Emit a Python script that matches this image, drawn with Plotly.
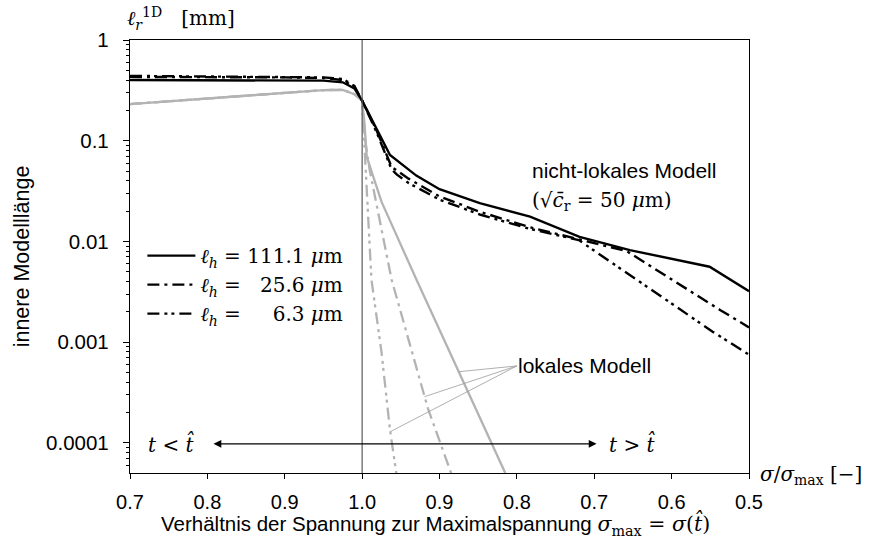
import numpy as np
import plotly.graph_objects as go

# stress ratio sigma/sigma_max before the peak (t < t_hat) and after it (t > t_hat)
r_pre = [0.70, 0.80, 0.90, 0.95, 0.975, 0.99, 1.0]

# non-local model, black lines
nl_pre_111 = [0.40, 0.40, 0.40, 0.395, 0.38, 0.33, 0.25]
nl_pre_25 = [0.43, 0.43, 0.425, 0.42, 0.40, 0.34, 0.25]
nl_pre_6 = [0.44, 0.435, 0.43, 0.425, 0.41, 0.35, 0.25]

nl_r_post_111 = [1.0, 0.981, 0.964, 0.93, 0.90, 0.848, 0.783, 0.719, 0.654, 0.551, 0.50]
nl_post_111 = [0.25, 0.128, 0.072, 0.045, 0.033, 0.024, 0.0176, 0.0111, 0.0082, 0.0056, 0.0032]

nl_r_post_25 = [1.0, 0.981, 0.962, 0.94, 0.90, 0.848, 0.783, 0.72, 0.658, 0.538, 0.50]
nl_post_25 = [0.25, 0.125, 0.055, 0.042, 0.028, 0.0197, 0.0138, 0.0105, 0.0080, 0.0021, 0.0014]

nl_r_post_6 = [1.0, 0.981, 0.962, 0.955, 0.94, 0.90, 0.848, 0.783, 0.72, 0.547, 0.50]
nl_post_6 = [0.25, 0.12, 0.052, 0.046, 0.038, 0.026, 0.0185, 0.0133, 0.0103, 0.00127, 0.00075]

# local model, grey lines
lo_pre = [0.231, 0.263, 0.298, 0.318, 0.32, 0.29, 0.25]

lo_r_post_111 = [1.0, 0.997, 0.994, 0.975, 0.93, 0.815]
lo_post_111 = [0.25, 0.15, 0.069, 0.0248, 0.0042, 0.00005]

lo_r_post_25 = [1.0, 0.996, 0.99, 0.977, 0.962, 0.915, 0.885]
lo_post_25 = [0.25, 0.10, 0.05, 0.016, 0.0042, 0.00022, 0.00005]

lo_r_post_6 = [1.0, 0.998, 0.995, 0.99, 0.988, 0.975, 0.964, 0.954]
lo_post_6 = [0.25, 0.12, 0.04, 0.0089, 0.0042, 0.0008, 0.000135, 0.00004]

x_ticks = [0.7, 0.8, 0.9, 1.0, 0.9, 0.8, 0.7, 0.6, 0.5]
y_ticks = [0.0001, 0.001, 0.01, 0.1, 1]
y_ticktext = ["0.0001", "0.001", "0.01", "0.1", "1"]

legend_names = ["<i>ℓ</i><sub><i>h</i></sub> = 111.1 <i>μ</i>m",
                "<i>ℓ</i><sub><i>h</i></sub> = \u200725.6 <i>μ</i>m",
                "<i>ℓ</i><sub><i>h</i></sub> = \u2007\u20076.3 <i>μ</i>m"]

SANS = "Liberation Sans"
SERIF = "DejaVu Serif"
GREY = "#b3b3b3"
DASHDOT = "12px,5px,3px,5px"
DASHDOTDOT = "12px,5px,3px,4px,3px,5px"


def unfold(r_before, r_after):
    # axis coordinate: before the peak u = r, after the peak u = 2 - r
    return list(r_before) + [2 - r for r in r_after]


fig = go.Figure()

black = [(nl_pre_111, nl_r_post_111, nl_post_111, "solid"),
         (nl_pre_25, nl_r_post_25, nl_post_25, DASHDOT),
         (nl_pre_6, nl_r_post_6, nl_post_6, DASHDOTDOT)]
grey = [(lo_pre, lo_r_post_111, lo_post_111, "solid"),
        (lo_pre, lo_r_post_25, lo_post_25, DASHDOT),
        (lo_pre, lo_r_post_6, lo_post_6, DASHDOTDOT)]

for pre, rp, post, dash in grey:
    fig.add_trace(go.Scatter(x=unfold(r_pre, rp), y=list(pre) + list(post), mode="lines",
                             line=dict(color=GREY, width=2.3, dash=dash), showlegend=False))

for (pre, rp, post, dash), name in zip(black, legend_names):
    fig.add_trace(go.Scatter(x=unfold(r_pre, rp), y=list(pre) + list(post), mode="lines",
                             line=dict(color="black", width=2.4, dash=dash), name=name))

# leader lines from "lokales Modell" to the grey curves
label_u, label_y = 1.2, 0.00058
for (pre, rp, post, dash), target in zip(grey, [-3.294, -3.542, -3.89]):
    u = np.array([2 - r for r in rp])
    ly = np.log10(post)
    u_hit = np.interp(target, ly[::-1], u[::-1])
    fig.add_trace(go.Scatter(x=[label_u, u_hit], y=[label_y, 10 ** target], mode="lines",
                             line=dict(color="#9a9a9a", width=0.8), showlegend=False,
                             hoverinfo="skip"))

fig.add_vline(x=1.0, line=dict(color="#5a5a5a", width=1.2))

fig.add_annotation(x=label_u, y=np.log10(label_y), text="lokales Modell", showarrow=False,
                   xanchor="left", yanchor="middle", xshift=-1,
                   font=dict(family=SANS, size=21, color="black"))

fig.add_annotation(x=1.217, y=-1.291, text="nicht-lokales Modell", showarrow=False,
                   xanchor="left", yanchor="middle",
                   font=dict(family=SANS, size=21, color="black"))
fig.add_annotation(x=1.217, y=-1.60, text="(√<i>c\u0304</i><sub>r</sub> = 50 <i>μ</i>m)",
                   showarrow=False, xanchor="left", yanchor="middle",
                   font=dict(family=SERIF, size=20, color="black"))

# t < t_hat  <-->  t > t_hat
fig.add_annotation(x=1.303, y=-4.01, ax=0.806, ay=-4.01, axref="x", ayref="y",
                   text="", showarrow=True, arrowhead=2, arrowside="end+start",
                   arrowsize=1.3, arrowwidth=1.2, arrowcolor="black")
fig.add_annotation(x=0.753, y=-4.01, text="<i>t</i> < <i>t\u0302</i>", showarrow=False,
                   font=dict(family=SERIF, size=20, color="black"))
fig.add_annotation(x=1.35, y=-4.01, text="<i>t</i> > <i>t\u0302</i>", showarrow=False,
                   font=dict(family=SERIF, size=20, color="black"))

fig.add_annotation(xref="paper", yref="paper", x=1, y=0, xanchor="left", yanchor="middle",
                   xshift=9, yshift=-2, text="<i>σ</i>/<i>σ</i><sub>max</sub> [−]", showarrow=False,
                   font=dict(family=SERIF, size=20, color="black"))
fig.add_annotation(xref="paper", yref="paper", x=0.173, y=1, xanchor="right", yanchor="bottom",
                   yshift=5, text="<i>ℓ</i><sub><i>r</i></sub><sup>1D</sup>\u00a0\u00a0\u00a0[mm]",
                   showarrow=False, font=dict(family=SERIF, size=20, color="black"))

# x axis title as a paper annotation so it sits exactly below the tick labels
fig.add_annotation(xref="paper", yref="paper", x=0.494, y=-0.118, xanchor="center", yanchor="middle",
                   text="Verhältnis der Spannung zur Maximalspannung "
                        "<span style='font-family:DejaVu Serif'><i>σ</i><sub>max</sub> = "
                        "<i>σ</i>(<i>t\u0302</i>)</span>",
                   showarrow=False, font=dict(family=SANS, size=20.5, color="black"))

fig.update_xaxes(range=[0.7, 1.5], tickmode="array",
                 tickvals=unfold(x_ticks[:4], x_ticks[4:]), ticktext=[f"{v:.1f}" for v in x_ticks],
                 ticks="outside", ticklen=5, tickwidth=1, tickcolor="black", ticklabelstandoff=6,
                 showline=True, linecolor="black", linewidth=1.3, mirror=True,
                 showgrid=False, zeroline=False,
                 tickfont=dict(family=SANS, size=20, color="black"))
fig.update_yaxes(type="log", range=[-4.3, 0], tickmode="array", tickvals=y_ticks, ticktext=y_ticktext,
                 ticks="outside", ticklen=6, tickwidth=1, tickcolor="black", ticklabelstandoff=10,
                 minor=dict(ticks="outside", ticklen=3, tickcolor="black", dtick="D1", showgrid=False),
                 showline=True, linecolor="black", linewidth=1.3, mirror=True,
                 showgrid=False, zeroline=False,
                 tickfont=dict(family=SANS, size=20.5, color="black"),
                 title=dict(text="innere Modelllänge", font=dict(family=SANS, size=21.5, color="black"),
                            standoff=10))

fig.update_layout(width=871, height=541, margin=dict(l=130, r=122, t=40, b=68),
                  plot_bgcolor="white", paper_bgcolor="white",
                  legend=dict(x=0.02, y=0.547, xanchor="left", yanchor="top", bgcolor="rgba(0,0,0,0)",
                              font=dict(family=SERIF, size=20, color="black"), tracegroupgap=0,
                              itemwidth=48))

# drop the default 8px page margin so the figure starts at the window corner
fig.write_html("out.html", config={"displayModeBar": False},
               post_script="document.body.style.margin='0';")
